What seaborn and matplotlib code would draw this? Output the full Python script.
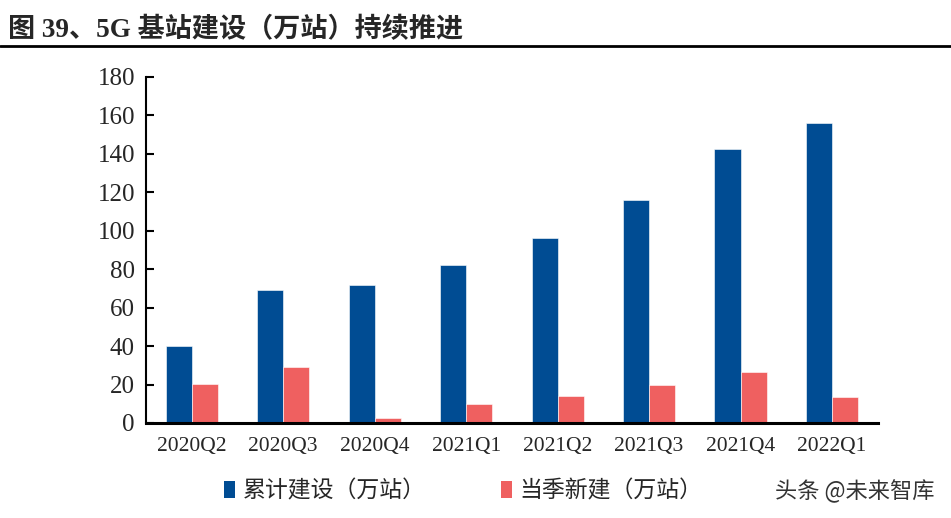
import pandas as pd
import numpy as np
import matplotlib.pyplot as plt
import seaborn as sns
from matplotlib.patches import Patch
from matplotlib.lines import Line2D

# data
quarters = ["2020Q2", "2020Q3", "2020Q4", "2021Q1", "2021Q2", "2021Q3", "2021Q4", "2022Q1"]
cumulative = [40, 69, 72, 82, 96, 116, 142.5, 156]
new_built = [20.3, 29, 2.4, 10, 14, 19.6, 26.4, 13.4]
series_names = ["累计建设（万站）", "当季新建（万站）"]
colors = ["#004C93", "#EF6060"]
yticks = [0, 20, 40, 60, 80, 100, 120, 140, 160, 180]

df = pd.DataFrame({
    "quarter": quarters * 2,
    "value": cumulative + new_built,
    "series": [series_names[0]] * len(quarters) + [series_names[1]] * len(quarters),
})

sns.set_style("white")
plt.rcParams["font.family"] = ["Liberation Serif", "Noto Sans CJK SC", "DejaVu Sans"]

fig = plt.figure(figsize=(9.51, 5.18), dpi=100)
ax = fig.add_axes([0.1535, 0.1834, 0.7695, 0.668])

sns.barplot(data=df, x="quarter", y="value", hue="series", palette=colors,
            width=0.57, gap=0, ax=ax, legend=False, saturation=1,
            edgecolor="white", linewidth=0.4)

ax.set_ylim(0, 180)
ax.set_yticks(yticks)
ax.set_xlim(-0.5, len(quarters) - 0.5)
ax.set_xlabel("")
ax.set_ylabel("")
for s in ["top", "right"]:
    ax.spines[s].set_visible(False)
ax.spines["left"].set_color("black")
ax.spines["left"].set_linewidth(1.5)
ax.spines["bottom"].set_color("black")
ax.spines["bottom"].set_linewidth(2.2)
ax.tick_params(axis="y", direction="in", length=6, width=1.5, labelsize=18, pad=8,
               left=True, color="black")
ax.tick_params(axis="x", length=0, labelsize=15.5, pad=10)
for lab in ax.get_yticklabels() + ax.get_xticklabels():
    lab.set_family("Liberation Serif")

# title and rule
fig.text(0.008, 0.942, "图 39、5G 基站建设（万站）持续推进", fontsize=19.5, fontweight="bold",
         ha="left", va="center", family=["Liberation Serif", "Noto Sans CJK SC"])
fig.add_artist(Line2D([0, 1], [0.911, 0.911], color="black", linewidth=2, transform=fig.transFigure))

# legend
handles = [Patch(facecolor=c, edgecolor="none") for c in colors]
leg = fig.legend(handles, series_names, loc="center", bbox_to_anchor=(0.487, 0.052), ncol=2,
                 frameon=False, handlelength=0.5, handleheight=0.75, handletextpad=0.3,
                 columnspacing=3.3, prop={"family": "Noto Sans CJK SC", "size": 16.5})

fig.text(0.983, 0.052, "头条 @未来智库", fontsize=16, color="#333333", ha="right", va="center",
         family=["Noto Sans CJK SC", "DejaVu Sans"])

fig.savefig("out.png", dpi=100)
